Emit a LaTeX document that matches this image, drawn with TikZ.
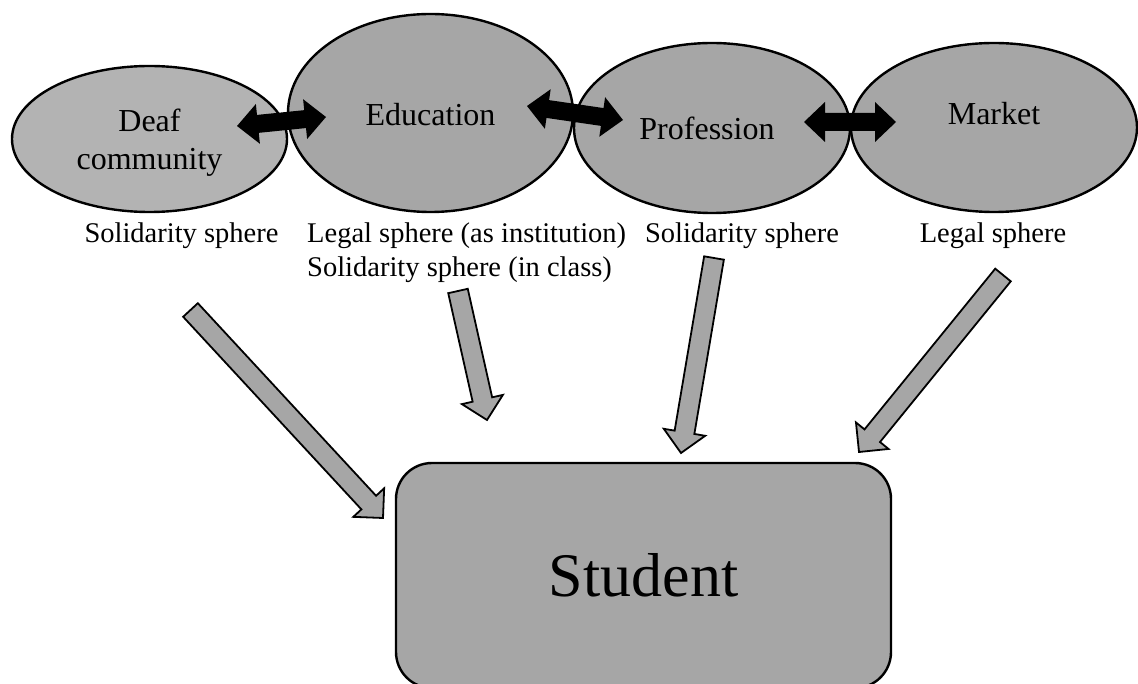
\documentclass[tikz,border=0pt]{standalone}
\usepackage{fontspec}
\setmainfont{Liberation Serif}
\usetikzlibrary{calc,shapes.geometric}
\definecolor{spherefill}{HTML}{A6A6A6}
\definecolor{spherelight}{HTML}{B3B3B3}

% wide grey arrow with a black outline, from tail #1 to tip #2
\newcommand\flowarrow[2]{%
  \coordinate (fa-n) at ($(#2)!21pt!(#1)$);
  \draw[flow] ($(#1)!10pt!90:(#2)$) -- ($(fa-n)!10pt!90:(#2)$)
    -- ($(fa-n)!21pt!90:(#2)$) -- (#2) -- ($(fa-n)!21pt!-90:(#2)$)
    -- ($(fa-n)!10pt!-90:(#2)$) -- ($(#1)!10pt!-90:(#2)$) -- cycle;}

% solid black arrow with heads at both ends
\newcommand\linkarrow[2]{%
  \coordinate (la-a) at ($(#1)!21pt!(#2)$);
  \coordinate (la-b) at ($(#2)!21pt!(#1)$);
  \fill[link] (#1) -- ($(la-a)!20pt!90:(#2)$) -- ($(la-a)!9pt!90:(#2)$)
    -- ($(la-b)!9pt!-90:(#1)$) -- ($(la-b)!20pt!-90:(#1)$) -- (#2)
    -- ($(la-b)!20pt!90:(#1)$) -- ($(la-b)!9pt!90:(#1)$)
    -- ($(la-a)!9pt!-90:(#2)$) -- ($(la-a)!20pt!-90:(#2)$) -- cycle;}

\begin{document}
\begin{tikzpicture}[x=1pt,y=-1pt,
  spherenode/.style={ellipse, draw, line width=2.4pt, fill=spherefill,
    inner sep=0pt, align=center, font=\fontsize{32}{38}\selectfont},
  sphlabel/.style={inner sep=0pt, font=\fontsize{28.5}{34}\selectfont},
  flow/.style={draw, line width=1.8pt, fill=spherefill, line join=miter},
  link/.style={black}]
\useasboundingbox (0,0) rectangle (1138,684);

% the four spheres
\node[spherenode, fill=spherelight, minimum width=275pt, minimum height=146pt]
  (deaf) at (149.5,139) {\raisebox{-4pt}[\height][\depth]{Deaf}\\\raisebox{-4pt}[\height][\depth]{community}};
\node[spherenode, minimum width=285pt, minimum height=198pt]
  (edu) at (430.5,113) {\raisebox{-2pt}[\height][\depth]{Education}};
\node[spherenode, minimum width=276pt, minimum height=170pt]
  (prof) at (712,128) {\hspace*{-10pt}Profession};
\node[spherenode, minimum width=286pt, minimum height=169pt]
  (mkt) at (994,127.5) {\raisebox{14pt}[\height][\depth]{Market}};

% links between neighbouring spheres
\coordinate (d1a) at (237,126);  \coordinate (d1b) at (326,117);
\coordinate (d2a) at (527,106);  \coordinate (d2b) at (623,120);
\coordinate (d3a) at (804,122);  \coordinate (d3b) at (896,122);
\linkarrow{d1a}{d1b}
\linkarrow{d2a}{d2b}
\linkarrow{d3a}{d3b}

% sphere types
\node[sphlabel, anchor=base] (ldeaf) at (181.5,243) {Solidarity sphere};
\node[sphlabel, anchor=base west, align=left] (ledu) at (307,277)
  {Legal sphere (as institution)\\Solidarity sphere (in class)};
\node[sphlabel, anchor=base] (lprof) at (742,243) {Solidarity sphere};
\node[sphlabel, anchor=base] (lmkt) at (993,243) {Legal sphere};

% the student
\node[draw, line width=2.4pt, fill=spherefill, rounded corners=36pt,
  minimum width=495pt, minimum height=225pt,
  font=\fontsize{62}{70}\selectfont] (student) at (643.5,575.5) {Student};

% influences on the student
\coordinate (t1) at (190.5,310);  \coordinate (h1) at (383,518);
\coordinate (t2) at (458,291);    \coordinate (h2) at (487,420);
\coordinate (t3) at (714,258);    \coordinate (h3) at (681,453);
\coordinate (t4) at (1003,275);   \coordinate (h4) at (859,452);
\flowarrow{t1}{h1}
\flowarrow{t2}{h2}
\flowarrow{t3}{h3}
\flowarrow{t4}{h4}
\end{tikzpicture}
\end{document}
